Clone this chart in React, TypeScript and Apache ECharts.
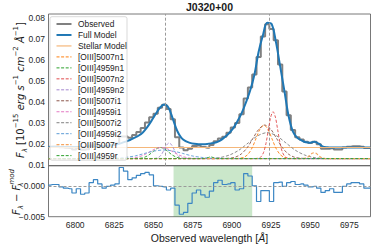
import React, { useEffect, useRef } from 'react';
import * as echarts from 'echarts';

// ---------- data ----------
const wave = [
  6782.9, 6785.6, 6788.3, 6791.1, 6793.8, 6796.6, 6799.3, 6802.1, 6804.8, 6807.5,
  6810.3, 6813.0, 6815.8, 6818.5, 6821.2, 6824.0, 6826.7, 6829.5, 6832.2, 6835.0,
  6837.7, 6840.4, 6843.2, 6845.9, 6848.6, 6851.4, 6854.1, 6856.9, 6859.6, 6862.3,
  6865.1, 6867.8, 6870.5, 6873.3, 6876.0, 6878.8, 6881.5, 6884.3, 6887.0, 6889.7,
  6892.5, 6895.2, 6897.9, 6900.7, 6903.4, 6906.2, 6908.9, 6911.6, 6914.4, 6917.1,
  6919.9, 6922.6, 6925.3, 6928.1, 6930.8, 6933.6, 6936.3, 6939.0, 6941.8, 6944.5,
  6947.3, 6950.0, 6952.7, 6955.5, 6958.2, 6961.0, 6963.7, 6966.4, 6969.2, 6971.9,
  6974.7, 6977.4, 6980.1, 6982.9, 6985.6, 6988.4,
];

const observed = [
  0.0186, 0.0187, 0.0187, 0.0183, 0.0181, 0.0180, 0.0173, 0.0180, 0.0171, 0.0174,
  0.0191, 0.0196, 0.0190, 0.0185, 0.0190, 0.0195, 0.0201, 0.0234, 0.0235, 0.0229,
  0.0242, 0.0256, 0.0275, 0.0301, 0.0327, 0.0343, 0.0372, 0.0386, 0.0366, 0.0317,
  0.0231, 0.0182, 0.0169, 0.0176, 0.0189, 0.0192, 0.0184, 0.0181, 0.0194, 0.0212,
  0.0225, 0.0233, 0.0252, 0.0278, 0.0299, 0.0341, 0.0416, 0.0469, 0.0531, 0.0615,
  0.0713, 0.0771, 0.0748, 0.0694, 0.0579, 0.0450, 0.0336, 0.0266, 0.0231, 0.0220,
  0.0209, 0.0204, 0.0210, 0.0197, 0.0176, 0.0176, 0.0178, 0.0172, 0.0172, 0.0182,
  0.0186, 0.0188, 0.0188, 0.0186, 0.0179, 0.0179,
];

const fullModel = [
  0.0184, 0.0184, 0.0184, 0.0184, 0.0184, 0.0184, 0.0184, 0.0184, 0.0184, 0.0185,
  0.0185, 0.0185, 0.0186, 0.0188, 0.0190, 0.0193, 0.0197, 0.0203, 0.0210, 0.0218,
  0.0228, 0.0238, 0.0254, 0.0278, 0.0308, 0.0342, 0.0372, 0.0387, 0.0372, 0.0320,
  0.0262, 0.0228, 0.0212, 0.0204, 0.0200, 0.0198, 0.0198, 0.0199, 0.0202, 0.0206,
  0.0215, 0.0230, 0.0248, 0.0272, 0.0305, 0.0345, 0.0395, 0.0452, 0.0530, 0.0640,
  0.0720, 0.0778, 0.0773, 0.0688, 0.0572, 0.0450, 0.0330, 0.0258, 0.0228, 0.0216,
  0.0207, 0.0205, 0.0210, 0.0200, 0.0186, 0.0183, 0.0182, 0.0182, 0.0182, 0.0182,
  0.0182, 0.0182, 0.0182, 0.0182, 0.0182, 0.0182,
];

const residual = [
  0.0002, 0.0003, 0.0003, -0.0001, -0.0003, -0.0004, -0.0011, -0.0004, -0.0013, -0.0011,
  0.0006, 0.0011, 0.0004, -0.0003, 0.0000, 0.0002, 0.0004, 0.0031, 0.0025, 0.0011,
  0.0014, 0.0018, 0.0021, 0.0023, 0.0019, 0.0001, 0.0000, -0.0001, -0.0006, -0.0003,
  -0.0031, -0.0046, -0.0043, -0.0028, -0.0011, -0.0006, -0.0014, -0.0018, -0.0008, 0.0006,
  0.0010, 0.0003, 0.0004, 0.0006, -0.0006, -0.0004, 0.0021, 0.0017, 0.0001, -0.0025,
  -0.0007, -0.0007, -0.0025, 0.0006, 0.0007, 0.0000, 0.0006, 0.0008, 0.0003, 0.0004,
  0.0002, -0.0001, 0.0000, -0.0003, -0.0010, -0.0007, -0.0004, -0.0010, -0.0010, 0.0000,
  0.0004, 0.0006, 0.0006, 0.0004, -0.0003, -0.0003,
];

const stellarWave = [6783, 6988.5];
const stellarFlux = [0.0182, 0.0182];

const oiii5007n1 = [[6783, 0.0129], [6900.5, 0.0129], [6905.5, 0.0131], [6908, 0.0136], [6910.5, 0.0151], [6913, 0.0181], [6915.5, 0.0226], [6918, 0.0270], [6920.5, 0.0289], [6923, 0.0270], [6925.5, 0.0226], [6928, 0.0181], [6930.5, 0.0151], [6933, 0.0136], [6935.5, 0.0131], [6940.5, 0.0129], [6988.5, 0.0129]];
const oiii4959n1 = [[6783, 0.0129], [6834.5, 0.0129], [6839.5, 0.0130], [6842, 0.0131], [6844.5, 0.0136], [6847, 0.0146], [6849.5, 0.0161], [6852, 0.0176], [6854.5, 0.0182], [6857, 0.0176], [6859.5, 0.0161], [6862, 0.0146], [6864.5, 0.0136], [6867, 0.0131], [6869.5, 0.0130], [6874.5, 0.0129], [6988.5, 0.0129]];
const oiii5007n2 = [[6783, 0.0129], [6912.3, 0.0129], [6917.3, 0.0131], [6918.8, 0.0139], [6920.3, 0.0159], [6921.8, 0.0202], [6923.3, 0.0265], [6924.8, 0.0327], [6926.3, 0.0353], [6927.8, 0.0327], [6929.3, 0.0265], [6930.8, 0.0202], [6932.3, 0.0159], [6933.8, 0.0139], [6935.3, 0.0131], [6940.3, 0.0129], [6988.5, 0.0129]];
const oiii4959n2 = [[6783, 0.0129], [6846, 0.0129], [6851, 0.0130], [6852.5, 0.0132], [6854, 0.0139], [6855.5, 0.0153], [6857, 0.0175], [6858.5, 0.0195], [6860, 0.0204], [6861.5, 0.0195], [6863, 0.0175], [6864.5, 0.0153], [6866, 0.0139], [6867.5, 0.0132], [6869, 0.0130], [6874, 0.0129], [6988.5, 0.0129]];
const oiii5007i1 = [[6783, 0.0129], [6891, 0.0129], [6898.5, 0.0131], [6902.3, 0.0136], [6906, 0.0151], [6909.8, 0.0181], [6913.5, 0.0226], [6917.3, 0.0270], [6921, 0.0289], [6924.8, 0.0270], [6928.5, 0.0226], [6932.3, 0.0181], [6936, 0.0151], [6939.8, 0.0136], [6943.5, 0.0131], [6951, 0.0129], [6988.5, 0.0129]];
const oiii4959i1 = [[6783, 0.0129], [6825, 0.0129], [6832.5, 0.0130], [6836.3, 0.0131], [6840, 0.0136], [6843.8, 0.0146], [6847.5, 0.0161], [6851.3, 0.0176], [6855, 0.0182], [6858.8, 0.0176], [6862.5, 0.0161], [6866.3, 0.0146], [6870, 0.0136], [6873.8, 0.0131], [6877.5, 0.0130], [6885, 0.0129], [6988.5, 0.0129]];
const oiii5007i2 = [[6783, 0.0129], [6874.5, 0.0129], [6886.5, 0.0130], [6892.5, 0.0134], [6898.5, 0.0146], [6904.5, 0.0169], [6910.5, 0.0204], [6916.5, 0.0238], [6922.5, 0.0253], [6928.5, 0.0238], [6934.5, 0.0204], [6940.5, 0.0169], [6946.5, 0.0146], [6952.5, 0.0134], [6958.5, 0.0130], [6970.5, 0.0129], [6988.5, 0.0129]];
const oiii4959i2 = [[6783, 0.0129], [6808.5, 0.0129], [6820.5, 0.0130], [6826.5, 0.0131], [6832.5, 0.0135], [6838.5, 0.0142], [6844.5, 0.0154], [6850.5, 0.0165], [6856.5, 0.0170], [6862.5, 0.0165], [6868.5, 0.0154], [6874.5, 0.0142], [6880.5, 0.0135], [6886.5, 0.0131], [6892.5, 0.0130], [6904.5, 0.0129], [6988.5, 0.0129]];
const oiii5007r = [[6783, 0.0129], [6945, 0.0129], [6946.3, 0.0130], [6947.5, 0.0133], [6948.8, 0.0138], [6950, 0.0146], [6951.3, 0.0154], [6952.5, 0.0157], [6953.8, 0.0154], [6955, 0.0146], [6956.3, 0.0138], [6957.5, 0.0133], [6958.8, 0.0130], [6960, 0.0129], [6988.5, 0.0129]];
const oiii4959r = [[6783, 0.0129], [6880, 0.0129], [6882.5, 0.0130], [6885, 0.0134], [6886.5, 0.0138], [6888, 0.0134], [6890.5, 0.0130], [6893, 0.0129], [6988.5, 0.0129]];

const lineCenters = [6857.7, 6924.0];
const fitWindow = [6862.8, 6913.0];

const xTicks = [6800, 6825, 6850, 6875, 6900, 6925, 6950, 6975];
const yTopTicks = [0.01, 0.02, 0.03, 0.04, 0.05, 0.06, 0.07, 0.08];
const yBottomTicks = [-0.005, 0.0];

const legendNames = [
  'Observed', 'Full Model', 'Stellar Model',
  '[OIII]5007n1', '[OIII]4959n1', '[OIII]5007n2', '[OIII]4959n2',
  '[OIII]5007i1', '[OIII]4959i1', '[OIII]5007i2', '[OIII]4959i2',
  '[OIII]5007r', '[OIII]4959r',
];

// ---------- styles ----------
const legendColors = [
  '#808080', '#1f77b4', '#f5b77a',
  '#ff7f0e', '#2ca02c', '#e0484a', '#a487cf',
  '#8c564b', '#e377c2', '#7f7f7f', '#5b9bd5',
  '#f5a55f', '#2ca02c',
];
const legendWidths = [2, 2, 1.2, 1, 1, 1, 1, 1, 1, 1, 1, 1.3, 1];
const legendDashed = [false, false, false, true, true, true, true, true, true, true, true, true, true];

const FONT = '"Liberation Sans", Arial, Helvetica, sans-serif';
const MATH = '"DejaVu Sans", sans-serif';
const XMIN = 6783;
const XMAX = 6988.5;
const GL = 48.5;
const GR = 3.5;
const TOP_T = 14;
const TOP_H = 151.7;
const BOT_H = 51;

const near = (a: number, b: number) => Math.abs(a - b) < 1e-7;

export default function App() {
  const ref = useRef<HTMLDivElement>(null);

  useEffect(() => {
    if (!ref.current) return;
    const chart = echarts.init(ref.current, null, { renderer: 'svg' });

    const componentData = [
      oiii5007n1, oiii4959n1, oiii5007n2, oiii4959n2,
      oiii5007i1, oiii4959i1, oiii5007i2, oiii4959i2,
      oiii5007r, oiii4959r,
    ];

    const componentSeries = componentData.map((d, i) => ({
      type: 'line',
      name: legendNames[i + 3],
      xAxisIndex: 0,
      yAxisIndex: 0,
      data: d,
      showSymbol: false,
      smooth: 0.3,
      z: 5 + i,
      lineStyle: { color: legendColors[i + 3], width: legendWidths[i + 3] * 0.9, type: [3, 1.8] },
    }));

    const legendGraphics: any[] = [
      {
        type: 'rect', z: 100,
        shape: { x: 50, y: 16.7, width: 77, height: 143.5, r: 2 },
        style: { fill: 'rgba(255,255,255,0.8)', stroke: '#cfcfcf', lineWidth: 0.8 },
      },
    ];
    legendNames.forEach((n, i) => {
      const y = 24 + 10.97 * i;
      legendGraphics.push({
        type: 'line', z: 101,
        shape: { x1: 56.5, y1: y, x2: 71.5, y2: y },
        style: {
          stroke: legendColors[i], lineWidth: legendWidths[i],
          lineDash: legendDashed[i] ? [3, 1.6] : null,
        },
      });
      legendGraphics.push({
        type: 'text', z: 101, x: 78, y: y,
        style: { text: n, fontSize: 8.4, fontFamily: FONT, fill: '#222', verticalAlign: 'middle', align: 'left' },
      });
    });

    const option: any = {
      animation: false,
      backgroundColor: '#ffffff',
      grid: [
        { left: GL, right: GR, top: TOP_T, height: TOP_H, show: true, borderColor: '#555', borderWidth: 0.8, backgroundColor: 'transparent' },
        { left: GL, right: GR, top: TOP_T + TOP_H, height: BOT_H, show: true, borderColor: '#555', borderWidth: 0.8, backgroundColor: 'transparent' },
      ],
      xAxis: [
        {
          type: 'value', gridIndex: 0, min: XMIN, max: XMAX,
          axisLine: { show: false }, axisTick: { show: false }, axisLabel: { show: false }, splitLine: { show: false },
        },
        {
          type: 'value', gridIndex: 1, min: XMIN, max: XMAX, interval: 1,
          axisLine: { show: false }, axisTick: { show: false }, splitLine: { show: false },
          axisLabel: {
            interval: 0, margin: 4, fontSize: 8.5, fontFamily: FONT, color: '#262626',
            showMinLabel: false, showMaxLabel: false,
            formatter: (v: number) => (xTicks.some((t) => near(t, v)) ? String(Math.round(v)) : ''),
          },
        },
      ],
      yAxis: [
        {
          type: 'value', gridIndex: 0, min: 0.0095, max: 0.082, interval: 0.0005,
          axisLine: { show: false }, axisTick: { show: false }, splitLine: { show: false },
          axisLabel: {
            margin: 3.5, fontSize: 8.5, fontFamily: FONT, color: '#262626',
            formatter: (v: number) => {
              const t = yTopTicks.find((k) => near(k, v));
              return t !== undefined ? t.toFixed(2) : '';
            },
          },
        },
        {
          type: 'value', gridIndex: 1, min: -0.005, max: 0.0034, interval: 0.005,
          axisLine: { show: false }, axisTick: { show: false }, splitLine: { show: false },
          axisLabel: {
            margin: 3.5, fontSize: 8.5, fontFamily: FONT, color: '#262626',
            formatter: (v: number) => {
              const t = yBottomTicks.find((k) => near(k, v));
              if (t === undefined) return '';
              return (t < 0 ? '\u2212' : '') + Math.abs(t).toFixed(3);
            },
          },
        },
      ],
      series: [
        {
          type: 'line', name: 'Observed', xAxisIndex: 0, yAxisIndex: 0,
          data: wave.map((w, i) => [w, observed[i]]),
          step: 'middle', showSymbol: false, z: 2,
          lineStyle: { color: '#808080', width: 2 },
          markLine: {
            silent: true, symbol: ['none', 'none'], label: { show: false },
            lineStyle: { color: '#9a9a9a', width: 1, type: [3, 2] },
            data: lineCenters.map((c) => ({ xAxis: c })),
          },
        },
        {
          type: 'line', name: 'Full Model', xAxisIndex: 0, yAxisIndex: 0,
          data: wave.map((w, i) => [w, fullModel[i]]),
          smooth: 0.35, showSymbol: false, z: 3,
          lineStyle: { color: '#1f77b4', width: 2 },
        },
        {
          type: 'line', name: 'Stellar Model', xAxisIndex: 0, yAxisIndex: 0,
          data: stellarWave.map((w, i) => [w, stellarFlux[i]]),
          showSymbol: false, z: 4,
          lineStyle: { color: '#f5b77a', width: 1.2 },
        },
        ...componentSeries,
        {
          type: 'line', name: 'Residual', xAxisIndex: 1, yAxisIndex: 1,
          data: wave.map((w, i) => [w, residual[i]]),
          step: 'middle', showSymbol: false, z: 3,
          lineStyle: { color: '#3b86c4', width: 1.2 },
          markArea: {
            silent: true,
            itemStyle: { color: 'rgba(44,160,44,0.25)' },
            data: [[{ xAxis: fitWindow[0] }, { xAxis: fitWindow[1] }]],
          },
          markLine: {
            silent: true, symbol: ['none', 'none'], label: { show: false },
            lineStyle: { color: '#9a9a9a', width: 1, type: [3, 2] },
            data: [{ yAxis: 0 }],
          },
        },
      ],
      graphic: [
        {
          type: 'text', z: 100, x: 209.5, y: 7,
          style: { text: 'J0320+00', fontSize: 10.5, fontWeight: 'bold', fontFamily: FONT, fill: '#1a1a1a', align: 'center', verticalAlign: 'middle' },
        },
        {
          type: 'text', z: 100, x: 209.5, y: 238,
          style: {
            text: 'Observed wavelength [{i|Å}]',
            fontSize: 10.5, fontFamily: FONT, fill: '#1a1a1a', align: 'center', verticalAlign: 'middle',
            rich: { i: { fontSize: 10.5, fontFamily: MATH, fontStyle: 'italic', fill: '#1a1a1a' } },
          },
        },
        {
          type: 'text', z: 100, x: 20, y: 90, rotation: Math.PI / 2,
          style: {
            text: '{i|F}{s|λ} [10{p|−15} {i|erg s}{p|−1} {i|cm}{p|−2} {i|Å}{p|−1}]',
            fontSize: 10, fontFamily: MATH, fill: '#1a1a1a', align: 'center', verticalAlign: 'middle', lineHeight: 16,
            rich: {
              i: { fontSize: 10, fontFamily: MATH, fontStyle: 'italic', fill: '#1a1a1a', lineHeight: 16 },
              p: { fontSize: 7, fontFamily: MATH, fill: '#1a1a1a', verticalAlign: 'top', lineHeight: 8 },
              s: { fontSize: 7, fontFamily: MATH, fontStyle: 'italic', fill: '#1a1a1a', verticalAlign: 'bottom', lineHeight: 8 },
            },
          },
        },
        {
          type: 'text', z: 100, x: 16, y: 192, rotation: Math.PI / 2,
          style: {
            text: '{i|F}{s|λ} − {i|F}{z|λ}{p|mod}',
            fontSize: 10, fontFamily: MATH, fill: '#1a1a1a', align: 'center', verticalAlign: 'middle', lineHeight: 16,
            rich: {
              i: { fontSize: 10, fontFamily: MATH, fontStyle: 'italic', fill: '#1a1a1a', lineHeight: 16 },
              p: { fontSize: 7, fontFamily: MATH, fontStyle: 'italic', fill: '#1a1a1a', verticalAlign: 'top', lineHeight: 8 },
              s: { fontSize: 7, fontFamily: MATH, fontStyle: 'italic', fill: '#1a1a1a', verticalAlign: 'bottom', lineHeight: 8 },
              z: { fontSize: 7, fontFamily: MATH, fontStyle: 'italic', fill: '#1a1a1a', verticalAlign: 'bottom', lineHeight: 8, width: 0.1 },
            },
          },
        },
        ...legendGraphics,
      ],
    };

    chart.setOption(option);
    return () => chart.dispose();
  }, []);

  return (
    <div
      ref={ref}
      style={{ position: 'fixed', left: 0, top: 0, width: 374, height: 247, background: '#fff' }}
    />
  );
}
